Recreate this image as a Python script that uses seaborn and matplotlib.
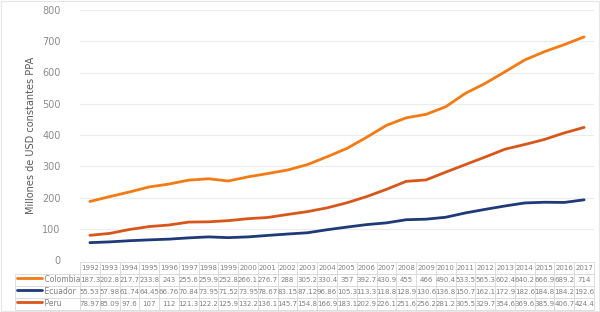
import seaborn as sns
import pandas as pd
import matplotlib.pyplot as plt

sns.set_theme(style="white")
plt.rcParams['font.family'] = ['DejaVu Sans']

years = [str(y) for y in range(1992, 2018)]
colombia = [187.3, 202.8, 217.7, 233.8, 243, 255.6, 259.9, 252.8, 266.1, 276.7, 288, 305.2, 330.4,
            357, 392.7, 430.9, 455, 466, 490.4, 533.5, 565.3, 602.4, 640.2, 666.9, 689.2, 714]
ecuador = [55.53, 57.98, 61.74, 64.45, 66.76, 70.84, 73.95, 71.52, 73.95, 78.67, 83.15, 87.12, 96.86,
           105.3, 113.3, 118.8, 128.9, 130.6, 136.8, 150.7, 162.1, 172.9, 182.6, 184.8, 184.2, 192.6]
peru = [78.97, 85.09, 97.6, 107, 112, 121.3, 122.2, 125.9, 132.2, 136.1, 145.7, 154.8, 166.9,
        183.1, 202.9, 226.1, 251.6, 256.2, 281.2, 305.5, 329.7, 354.6, 369.6, 385.9, 406.7, 424.4]
countries = ["Colombia", "Ecuador", "Peru"]
colors = {"Colombia": "#F47A12", "Ecuador": "#1F3A78", "Peru": "#D9561A"}


def main():
    df = pd.DataFrame({"year": years, "Colombia": colombia, "Ecuador": ecuador, "Peru": peru})
    long = df.melt(id_vars="year", var_name="country", value_name="value")

    fig = plt.figure(figsize=(6, 3.12), dpi=100)
    ax = fig.add_axes([80 / 600, 1 - 260 / 312, 514 / 600, 250 / 312])
    sns.lineplot(data=long, x="year", y="value", hue="country", palette=colors,
                 linewidth=2, ax=ax, legend=False, sort=False)
    ax.set_xlim(-0.5, len(years) - 0.5)
    ax.set_ylim(0, 800)
    ax.set_yticks(range(0, 801, 100))
    ax.tick_params(axis="y", labelsize=7, labelcolor="#8c8c8c", length=0, pad=14)
    ax.set_xticks([])
    ax.set_xlabel("")
    ax.set_ylabel("Millones de USD constantes PPA", fontsize=7, color="#595959", labelpad=4)
    ax.grid(axis="y", color="#ececec", linewidth=0.8)
    for s in ax.spines.values():
        s.set_visible(False)

    # data table under the chart: first column holds the series names
    header = [""] + years
    rows = [["            " + c] + [f"{v:g}" for v in df[c]] for c in countries]
    tbl = ax.table(cellText=[header] + rows, cellLoc="center",
                   bbox=[-65 / 514, -50 / 250, 579 / 514, 48 / 250])
    tbl.auto_set_font_size(False)
    for (r, c), cell in tbl.get_celld().items():
        cell.set_edgecolor("#d9d9d9")
        cell.set_linewidth(0.6)
        cell.get_text().set_fontsize(5)
        cell.get_text().set_color("#7f7f7f")
        cell.PAD = 0.02
        if c == 0:
            cell.set_width(65)
            if r == 0:
                cell.visible_edges = "R"
            else:
                cell.get_text().set_horizontalalignment("left")
                cell.get_text().set_fontsize(5.5)
        else:
            cell.set_width(514 / 26)
    # legend keys inside name cells
    for i, c in enumerate(countries):
        ypix = 277.5 + i * 12.2
        fig.add_artist(plt.Line2D([17 / 600, 42 / 600], [1 - ypix / 312] * 2, color=colors[c], lw=2))

    fig.add_artist(plt.Rectangle((0.002, 0.002), 0.996, 0.996, fill=False, edgecolor="#e6e6e6", lw=0.8))
    fig.savefig("out.png", dpi=100)


if __name__ == "__main__":
    main()
